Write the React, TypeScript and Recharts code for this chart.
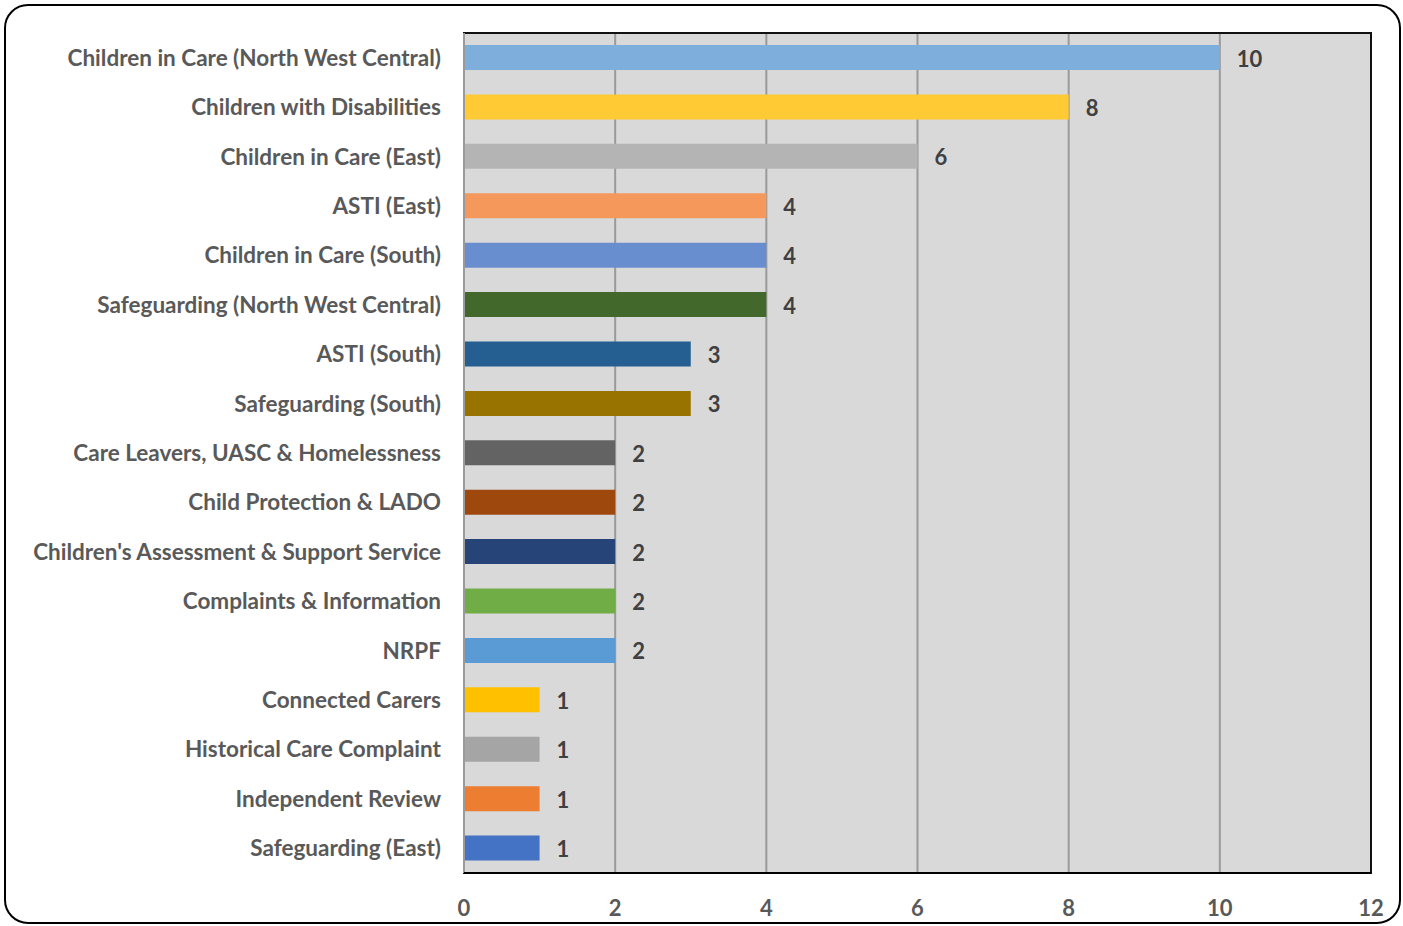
import React from "react";
import { BarChart, Bar, XAxis, YAxis, CartesianGrid, Cell, LabelList, ReferenceLine, ReferenceArea } from "recharts";

const categories = [
  "Children in Care (North West Central)",
  "Children with Disabilities",
  "Children in Care (East)",
  "ASTI (East)",
  "Children in Care (South)",
  "Safeguarding (North West Central)",
  "ASTI (South)",
  "Safeguarding (South)",
  "Care Leavers, UASC & Homelessness",
  "Child Protection & LADO",
  "Children's Assessment & Support Service",
  "Complaints & Information",
  "NRPF",
  "Connected Carers",
  "Historical Care Complaint",
  "Independent Review",
  "Safeguarding (East)",
];
const values = [10, 8, 6, 4, 4, 4, 3, 3, 2, 2, 2, 2, 2, 1, 1, 1, 1];
const colors = [
  "#7EAEDC", "#FFCA33", "#B4B4B4", "#F4985B", "#698ED0", "#43682B", "#255E91", "#997300",
  "#636363", "#9E480E", "#264478", "#70AD47", "#5B9BD5", "#FFC000", "#A5A5A5", "#ED7D31", "#4472C4",
];
const xTicks = [0, 2, 4, 6, 8, 10, 12];

const data = categories.map((name, i) => ({ name, value: values[i] }));

const FONT = "Lato, 'Open Sans', sans-serif";

const YTick = (props: any) => {
  const { y, payload } = props;
  return (
    <text x={441} y={y} dy={8} textAnchor="end" fill="#595959" fontFamily={FONT} fontWeight={700} fontSize={22.5}>
      {payload.value}
    </text>
  );
};

const ValueLabel = (props: any) => {
  const { x, y, width, height, value } = props;
  return (
    <text x={x + width + 17} y={y + height / 2} dy={9} textAnchor="start" fill="#404040" fontFamily={FONT} fontWeight={700} fontSize={22}>
      {value}
    </text>
  );
};

export default function App() {
  return (
    <div style={{ position: "absolute", left: 0, top: 0, width: 1403, height: 926, background: "#fff", overflow: "hidden" }}>
      <div
        style={{
          position: "absolute",
          left: 4,
          top: 4,
          width: 1397,
          height: 920,
          border: "2px solid #000",
          borderRadius: 24,
          boxSizing: "border-box",
        }}
      />
      <div style={{ position: "absolute", left: 0, top: 0 }}>
        <BarChart
          width={1403}
          height={926}
          data={data}
          layout="vertical"
          margin={{ top: 33, right: 32, bottom: 0, left: 0 }}
          barCategoryGap={0}
        >
          <CartesianGrid horizontal={false} vertical={true} stroke="#9a9a9a" strokeWidth={2} fill="#D9D9D9" />
          <XAxis
            type="number"
            domain={[0, 12]}
            ticks={xTicks}
            interval={0}
            height={53}
            tickSize={0}
            tickMargin={27}
            axisLine={{ stroke: "#000", strokeWidth: 2 }}
            tick={{ fill: "#595959", fontFamily: FONT, fontWeight: 700, fontSize: 22 }}
          />
          <YAxis
            type="category"
            dataKey="name"
            width={464}
            tickLine={false}
            axisLine={false}
            tick={<YTick />}
            interval={0}
          />
          <ReferenceArea x1={0} x2={12} fill="none" stroke="#111" strokeWidth={2} ifOverflow="visible" />
          <ReferenceLine x={0} stroke="#9a9a9a" strokeWidth={2} ifOverflow="visible" />
          <Bar dataKey="value" barSize={25} isAnimationActive={false}>
            {data.map((d, i) => (
              <Cell key={d.name} fill={colors[i]} />
            ))}
            <LabelList dataKey="value" content={<ValueLabel />} />
          </Bar>
        </BarChart>
      </div>
    </div>
  );
}
